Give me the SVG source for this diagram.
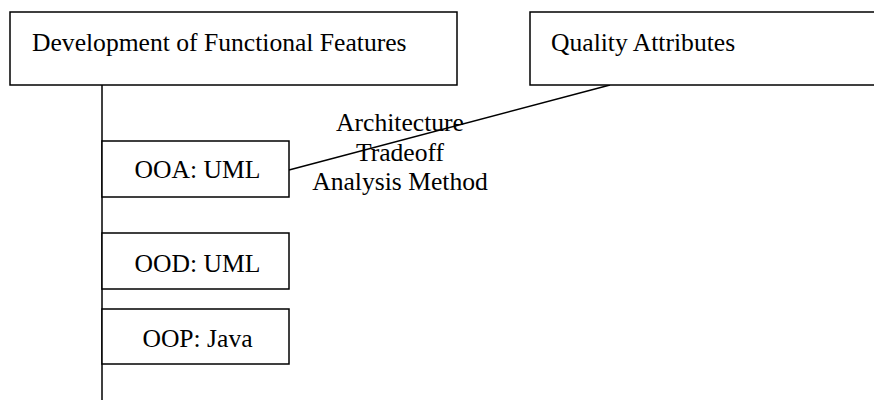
<svg xmlns="http://www.w3.org/2000/svg" width="874" height="400" viewBox="0 0 874 400">
  <style>
    .box { fill: #ffffff; stroke: #000000; stroke-width: 1.5; }
    .conn { fill: none; stroke: #000000; stroke-width: 1.5; }
    text { font-family: "Liberation Serif", "Times New Roman", serif; font-size: 25.6px; fill: #000000; }
    .mid { text-anchor: middle; }
  </style>
  <rect width="874" height="400" fill="#ffffff"/>

  <g id="connectors">
    <!-- backbone running down from the functional features box -->
    <line class="conn" x1="102" y1="85" x2="102" y2="400"/>
    <!-- link from quality attributes to OOA -->
    <line class="conn" x1="610" y1="85" x2="289" y2="170"/>
  </g>

  <g id="functional-features">
    <rect class="box" x="10" y="12" width="447" height="73"/>
    <text x="32" y="51">Development of Functional Features</text>
  </g>

  <g id="quality-attributes">
    <rect class="box" x="530" y="12" width="360" height="73"/>
    <text x="551" y="51">Quality Attributes</text>
  </g>

  <g id="atam-label">
    <text class="mid" x="400" y="131">Architecture</text>
    <text class="mid" x="400" y="161">Tradeoff</text>
    <text class="mid" x="400" y="190">Analysis Method</text>
  </g>

  <g id="ooa">
    <rect class="box" x="102" y="141" width="187" height="56"/>
    <text class="mid" x="197.5" y="178">OOA: UML</text>
  </g>

  <g id="ood">
    <rect class="box" x="102" y="233" width="187" height="56"/>
    <text class="mid" x="197.5" y="272">OOD: UML</text>
  </g>

  <g id="oop">
    <rect class="box" x="102" y="309" width="187" height="55"/>
    <text class="mid" x="197.5" y="347">OOP: Java</text>
  </g>
</svg>
